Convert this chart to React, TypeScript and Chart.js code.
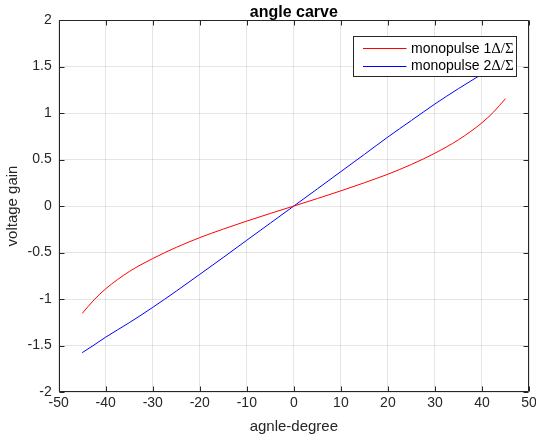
import React, { useEffect, useRef } from 'react';
import { Chart, registerables } from 'chart.js';

Chart.register(...registerables);

const angles = [-45, -42.5, -40, -35, -30, -25, -20, -15, -10, -5, 0, 5, 10, 15, 20, 25, 30, 35, 40, 42.5, 45];
const mono1 = [-1.155, -1.01, -0.89, -0.705, -0.565, -0.445, -0.34, -0.248, -0.162, -0.08, 0, 0.08, 0.163, 0.25, 0.342, 0.447, 0.568, 0.712, 0.895, 1.012, 1.155];
const mono2 = [-1.577, -1.495, -1.41, -1.255, -1.09, -0.915, -0.735, -0.553, -0.368, -0.184, 0, 0.184, 0.37, 0.555, 0.742, 0.92, 1.097, 1.262, 1.418, 1.498, 1.577];
const xTicks = [-50, -40, -30, -20, -10, 0, 10, 20, 30, 40, 50];
const yTicks = [-2, -1.5, -1, -0.5, 0, 0.5, 1, 1.5, 2];
const seriesLabels = ['monopulse 1Δ/Σ', 'monopulse 2Δ/Σ'];
const seriesColors = ['#ff0000', '#0000ff'];
const titleText = 'angle carve';
const xTitle = 'agnle-degree';
const yTitle = 'voltage gain';

const FONT = '"Liberation Sans", Arial, Helvetica, sans-serif';
const SERIF = '"Liberation Serif", "DejaVu Serif", serif';
const AXIS_COLOR = '#262626';

const framePlugin = {
  id: 'matlabFrame',
  afterDatasetsDraw(chart: any) {
    const { ctx, chartArea: ca, scales } = chart;
    const L = Math.round(ca.left) + 0.5;
    const R = Math.round(ca.right) - 0.5;
    const T = Math.round(ca.top) + 0.5;
    const B = Math.round(ca.bottom) - 0.5;
    ctx.save();
    ctx.strokeStyle = AXIS_COLOR;
    ctx.lineWidth = 1;
    ctx.beginPath();
    ctx.rect(L, T, R - L, B - T);
    ctx.stroke();
    const tl = 5;
    ctx.beginPath();
    xTicks.forEach((v) => {
      const px = Math.round(scales.x.getPixelForValue(v)) + 0.5;
      ctx.moveTo(px, B);
      ctx.lineTo(px, B - tl);
      ctx.moveTo(px, T);
      ctx.lineTo(px, T + tl);
    });
    yTicks.forEach((v) => {
      const py = Math.round(scales.y.getPixelForValue(v)) + 0.5;
      ctx.moveTo(L, py);
      ctx.lineTo(L + tl, py);
      ctx.moveTo(R, py);
      ctx.lineTo(R - tl, py);
    });
    ctx.stroke();

    // legend
    const lw = 163;
    const lh = 40;
    const lx = Math.round(ca.right - 13 - lw) + 0.5;
    const ly = Math.round(ca.top + 16) + 0.5;
    ctx.fillStyle = '#ffffff';
    ctx.fillRect(lx, ly, lw, lh);
    ctx.strokeStyle = AXIS_COLOR;
    ctx.strokeRect(lx, ly, lw, lh);
    chart.data.datasets.forEach((ds: any, i: number) => {
      const ry = ly + 11.5 + i * 17.5;
      ctx.strokeStyle = ds.borderColor;
      ctx.lineWidth = 1;
      ctx.beginPath();
      ctx.moveTo(lx + 9.5, Math.round(ry) + 0.5);
      ctx.lineTo(lx + 53, Math.round(ry) + 0.5);
      ctx.stroke();
      const label: string = ds.label;
      const k = label.indexOf('Δ');
      const plain = k >= 0 ? label.slice(0, k) : label;
      const greek = k >= 0 ? label.slice(k) : '';
      ctx.fillStyle = '#000000';
      ctx.textBaseline = 'middle';
      ctx.textAlign = 'left';
      ctx.font = `14px ${FONT}`;
      const tx = lx + 57.5;
      ctx.fillText(plain, tx, ry + 1);
      const w = ctx.measureText(plain).width;
      ctx.font = `15px ${SERIF}`;
      ctx.fillText(greek, tx + w, ry + 1);
    });

    // titles
    const cx = (ca.left + ca.right) / 2;
    ctx.fillStyle = '#000000';
    ctx.textAlign = 'center';
    ctx.textBaseline = 'alphabetic';
    ctx.font = `bold 16px ${FONT}`;
    ctx.fillText(titleText, cx, 17);
    ctx.fillStyle = AXIS_COLOR;
    ctx.font = `15px ${FONT}`;
    ctx.fillText(xTitle, cx, 431);
    ctx.save();
    ctx.translate(17, (ca.top + ca.bottom) / 2);
    ctx.rotate(-Math.PI / 2);
    ctx.fillText(yTitle, 0, 0);
    ctx.restore();
    ctx.restore();
  },
};

export default function App() {
  const ref = useRef<HTMLCanvasElement | null>(null);
  useEffect(() => {
    if (!ref.current) return;
    const chart = new Chart(ref.current, {
      type: 'line',
      data: {
        datasets: [
          {
            label: seriesLabels[0],
            data: angles.map((a, i) => ({ x: a, y: mono1[i] })),
            borderColor: seriesColors[0],
            borderWidth: 1,
            pointRadius: 0,
            fill: false,
            cubicInterpolationMode: 'monotone',
          },
          {
            label: seriesLabels[1],
            data: angles.map((a, i) => ({ x: a, y: mono2[i] })),
            borderColor: seriesColors[1],
            borderWidth: 1,
            pointRadius: 0,
            fill: false,
            cubicInterpolationMode: 'monotone',
          },
        ],
      },
      options: {
        animation: false,
        responsive: false,
        layout: { padding: { top: 20, right: 7, left: 0, bottom: 0 } },
        plugins: {
          legend: { display: false },
          title: { display: false },
          tooltip: { enabled: false },
        },
        scales: {
          x: {
            type: 'linear',
            min: -50,
            max: 50,
            afterBuildTicks: (s: any) => {
              s.ticks = xTicks.map((v) => ({ value: v }));
            },
            afterFit: (s: any) => {
              s.height = 51;
              s.paddingLeft = 0;
              s.paddingRight = 0;
            },
            grid: { color: 'rgba(38,38,38,0.12)', drawTicks: false, lineWidth: 1 },
            border: { display: false },
            ticks: {
              padding: 3,
              color: AXIS_COLOR,
              font: { family: FONT, size: 14 },
              callback: (v: any) => String(v),
              maxRotation: 0,
              autoSkip: false,
            },
          },
          y: {
            type: 'linear',
            min: -2,
            max: 2,
            afterBuildTicks: (s: any) => {
              s.ticks = yTicks.map((v) => ({ value: v }));
            },
            afterFit: (s: any) => {
              s.width = 58.7;
              s.paddingTop = 0;
              s.paddingBottom = 0;
            },
            grid: { color: 'rgba(38,38,38,0.12)', drawTicks: false, lineWidth: 1 },
            border: { display: false },
            ticks: {
              padding: 7,
              color: AXIS_COLOR,
              font: { family: FONT, size: 14 },
              callback: (v: any) => String(v),
              autoSkip: false,
            },
          },
        },
      },
      plugins: [framePlugin],
    } as any);
    return () => chart.destroy();
  }, []);
  return (
    <div style={{ position: 'fixed', left: 0, top: 0, width: 536, height: 443, background: '#ffffff' }}>
      <canvas ref={ref} width={536} height={443} style={{ display: 'block' }} />
    </div>
  );
}
